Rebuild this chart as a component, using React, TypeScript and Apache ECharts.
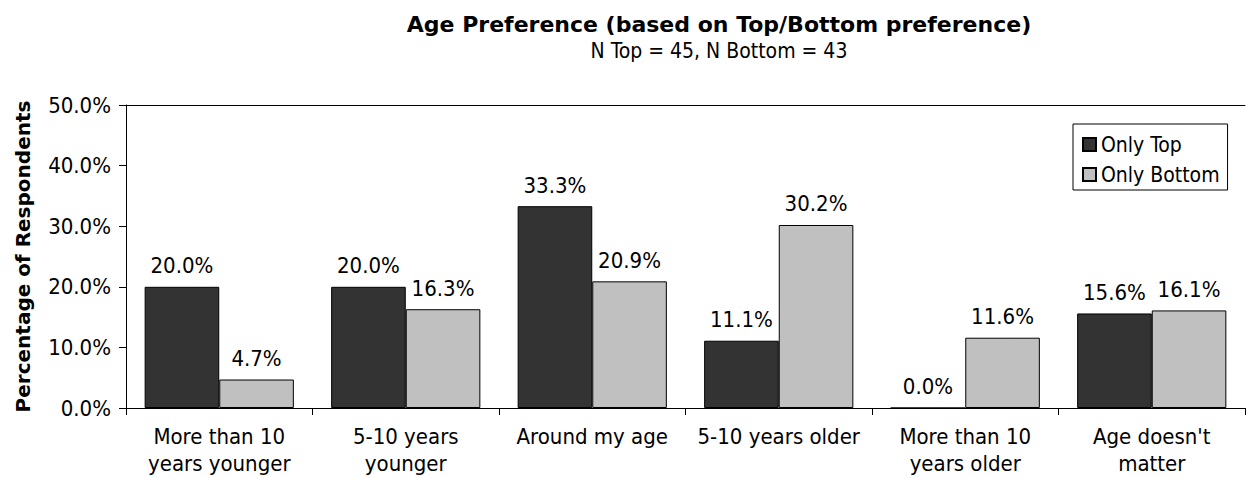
import React, { useEffect, useRef } from "react";
import * as echarts from "echarts";

const categories = [
  "More than 10\nyears younger",
  "5-10 years\nyounger",
  "Around my age",
  "5-10 years older",
  "More than 10\nyears older",
  "Age doesn't\nmatter",
];
const onlyTop = [20.0, 20.0, 33.3, 11.1, 0.0, 15.6];
const onlyBottom = [4.7, 16.3, 20.9, 30.2, 11.6, 16.1];
const seriesNames = ["Only Top", "Only Bottom"];
const yTicks = { min: 0, max: 50, interval: 10 };

const FONT = "'DejaVu Sans Condensed', 'DejaVu Sans'";
const BOLD = "'DejaVu Sans'";

export default function App() {
  const ref = useRef<HTMLDivElement>(null);
  useEffect(() => {
    if (!ref.current) return;
    const chart = echarts.init(ref.current, undefined, { renderer: "svg" });
    const labelStyle = {
      show: true,
      position: "top" as const,
      distance: 10,
      color: "#000",
      fontFamily: FONT,
      fontSize: 22,
      formatter: (p: any) => Number(p.value).toFixed(1) + "%",
    };
    chart.setOption({
      animation: false,
      backgroundColor: "#fff",
      textStyle: { fontFamily: FONT },
      title: {
        text: "Age Preference (based on Top/Bottom preference)",
        subtext: "N Top = 45, N Bottom = 43",
        left: 714,
        textAlign: "center",
        top: 8,
        itemGap: 5,
        textStyle: { fontFamily: BOLD, fontSize: 22, fontWeight: "bold", color: "#000" },
        subtextStyle: { fontFamily: FONT, fontSize: 21, color: "#000" },
      },
      legend: {
        data: seriesNames,
        orient: "vertical",
        left: 1073,
        top: 124,
        padding: [10, 8, 5, 9],
        itemGap: 9,
        itemWidth: 13,
        itemHeight: 13,
        icon: "rect",
        borderColor: "#000",
        borderWidth: 1,
        backgroundColor: "#fff",
        textStyle: { fontFamily: FONT, fontSize: 21, lineHeight: 21, color: "#000" },
      },
      grid: { left: 126, right: 1, top: 105, bottom: 70 },
      xAxis: [
        {
          type: "category",
          data: categories,
          axisLine: { show: true, lineStyle: { color: "#000", width: 1 } },
          axisTick: { show: true, alignWithLabel: false, length: 7, lineStyle: { color: "#000" } },
          axisLabel: {
            color: "#000",
            fontFamily: FONT,
            fontSize: 22,
            lineHeight: 27,
            margin: 15,
            interval: 0,
          },
        },
        {
          type: "category",
          data: categories,
          position: "top",
          axisLine: { show: true, lineStyle: { color: "#000", width: 1 } },
          axisTick: { show: false },
          axisLabel: { show: false },
        },
      ],
      yAxis: {
        type: "value",
        min: yTicks.min,
        max: yTicks.max,
        interval: yTicks.interval,
        name: "Percentage of Respondents",
        nameLocation: "middle",
        nameGap: 93,
        nameTextStyle: { fontFamily: BOLD, fontSize: 20, fontWeight: "bold", color: "#000" },
        axisLine: { show: true, lineStyle: { color: "#000", width: 1 } },
        axisTick: { show: true, length: 7, lineStyle: { color: "#000" } },
        splitLine: { show: false },
        axisLabel: {
          color: "#000",
          fontFamily: FONT,
          fontSize: 22,
          margin: 15,
          formatter: (v: number) => v.toFixed(1) + "%",
        },
      },
      series: [
        {
          name: seriesNames[0],
          type: "bar",
          data: onlyTop,
          barGap: "0%",
          barCategoryGap: "20%",
          itemStyle: { color: "#333333", borderColor: "#000", borderWidth: 1 },
          label: labelStyle,
        },
        {
          name: seriesNames[1],
          type: "bar",
          data: onlyBottom,
          barGap: "0%",
          barCategoryGap: "20%",
          itemStyle: { color: "#c0c0c0", borderColor: "#000", borderWidth: 1 },
          label: labelStyle,
        },
      ],
    });
    return () => chart.dispose();
  }, []);
  return (
    <div
      ref={ref}
      style={{ position: "fixed", left: 0, top: 0, width: 1246, height: 478, background: "#fff" }}
    />
  );
}
